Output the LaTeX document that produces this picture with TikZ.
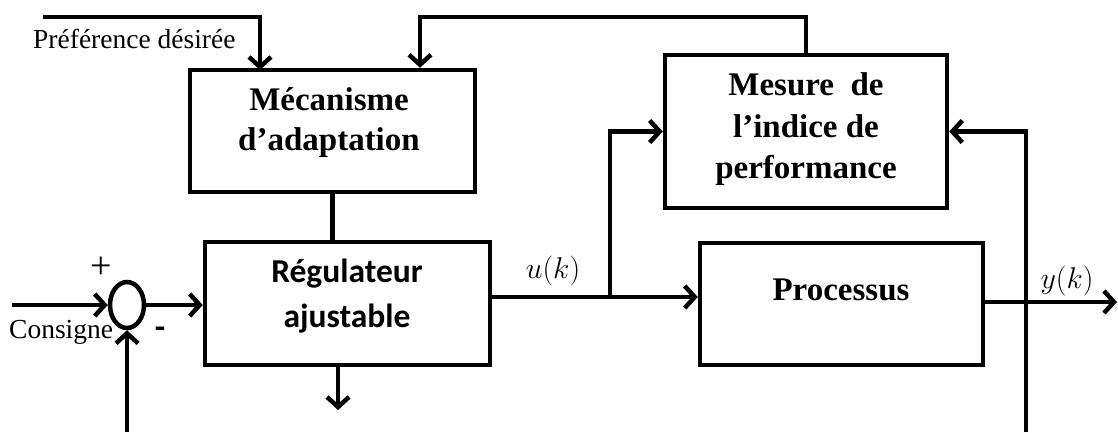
\RequirePackage{fix-cm}
\documentclass[tikz,border=0pt]{standalone}
\usepackage{fontspec}
\setmainfont{Liberation Serif}
\newfontfamily\calibfont{Carlito}
\usetikzlibrary{arrows.meta,shapes.geometric}
\begin{document}
\begin{tikzpicture}[x=1pt,y=-1pt,
  wire/.style={line width=4.5pt},
  flow/.style={wire,-{Straight Barb[length=10pt,width=22pt]}},
  blockbox/.style={draw,rectangle,line width=4.5pt,inner sep=0pt},
  serifbold/.style={font=\fontsize{33}{40}\selectfont\bfseries,anchor=base,inner sep=0pt},
  sansbold/.style={font=\calibfont\fontsize{33.5}{40}\selectfont\bfseries,anchor=base,inner sep=0pt},
  plain/.style={font=\fontsize{27.5}{30}\selectfont,anchor=base west,inner sep=0pt},
  mathlbl/.style={font=\fontsize{30}{34}\selectfont,anchor=base,inner sep=0pt}]
\useasboundingbox (0,0) rectangle (1118,432);

% blocks
\node[blockbox,minimum width=285pt,minimum height=122pt] (mec) at (332.5,131) {};
\node[blockbox,minimum width=282pt,minimum height=153pt] (mes) at (806,131.5) {};
\node[blockbox,minimum width=285pt,minimum height=123pt] (reg) at (347.5,303.5) {};
\node[blockbox,minimum width=283pt,minimum height=122pt] (proc) at (841.5,304) {};
\node[draw,ellipse,line width=4.5pt,inner sep=0pt,minimum width=34pt,minimum height=46pt] (sum) at (127,305) {};

% block texts
\node[serifbold] (mecA) at (329,110) {Mécanisme};
\node[serifbold] (mecB) at (329,150) {d’adaptation};
\node[serifbold] (mesA) at (806,95) {Mesure\ \ de};
\node[serifbold] (mesB) at (806,137) {l’indice de};
\node[serifbold] (mesC) at (806,178) {performance};
\node[sansbold] (regA) at (347,282) {Régulateur};
\node[sansbold] (regB) at (347,327) {ajustable};
\node[serifbold] (procA) at (841,300) {Processus};

% signal labels
\node[plain] (prefT) at (33,48) {Préférence désirée};
\node[plain] (consT) at (9,338) {Consigne};
\node[font=\fontsize{38}{40}\selectfont,inner sep=0pt] (plusT) at (101,268) {+};
\node[font=\calibfont\fontsize{34}{36}\selectfont\bfseries,inner sep=0pt] (minusT) at (160,333) {-};
\node[mathlbl] (uT) at (553,278) {$u(k)$};
\node[mathlbl] (yT) at (1067,288) {$y(k)$};

% free ends and corners
\coordinate (pref) at (43,17);
\coordinate (prefin) at (260,70);
\coordinate (topL) at (420,17);
\coordinate (regout) at (338,410);
\coordinate (ubranch) at (610,297);
\coordinate (yout) at (1117,302);
\coordinate (fbR) at (1026,432);
\coordinate (cin) at (12,305);
\coordinate (fbL) at (127,432);

% connectors
\draw[flow] (pref) -| (prefin);
\draw[flow] (mes.north) |- (topL) -- (topL |- mec.north);
\draw[wire] (mec.south) -- (mec.south |- reg.north);
\draw[flow] (regout |- reg.south) -- (regout);
\draw[flow] (reg.east |- ubranch) -- (proc.west |- ubranch);
\draw[flow] (ubranch) |- (mes.west);
\draw[flow] (proc.east |- yout) -- (yout);
\draw[flow] (fbR) |- (mes.east);
\draw[flow] (cin) -- (sum.west);
\draw[flow] (sum.east) -- (reg.west |- sum.east);
\draw[flow] (fbL) -- (sum.south);
\end{tikzpicture}
\end{document}
